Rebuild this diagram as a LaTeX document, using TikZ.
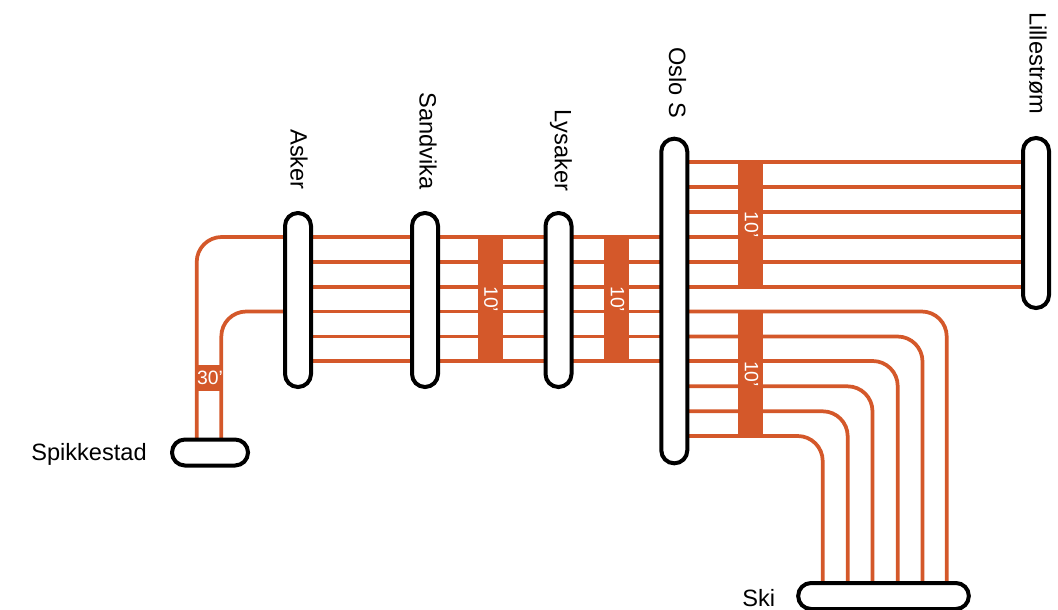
\documentclass[tikz,border=0pt]{standalone}
\usepackage{fontspec}
\setmainfont{Liberation Sans}
\definecolor{rail}{HTML}{D4582A}
\tikzset{
  station/.style={draw=black,line width=3pt,fill=white,rounded corners=9.7pt,inner sep=0pt,minimum width=19.5pt},
  hstation/.style={draw=black,line width=3pt,fill=white,rounded corners=9.7pt,inner sep=0pt,minimum height=19.5pt},
  track/.style={draw=rail,line width=2.8pt},
  curved/.style={track,rounded corners=18.75pt},
  freqbar/.style={fill=rail,inner sep=0pt,minimum width=18.75pt},
  freqlabel/.style={text=white,font=\fontsize{14.5}{14.5}\selectfont,inner sep=0pt},
  stlabel/.style={text=black,font=\fontsize{17.7}{17.7}\selectfont,inner sep=0pt}
}
\begin{document}
\begin{tikzpicture}[x=0.75pt,y=-0.75pt]
\useasboundingbox (0,0) rectangle (1058,610);
\fill[white] (0,0) rectangle (1058,610);
% station anchors
\coordinate (a1) at (298,237);\coordinate (a2) at (298,262);\coordinate (a3) at (298,287);
\coordinate (a4) at (298,311.5);\coordinate (a5) at (298,336.5);\coordinate (a6) at (298,361);
\coordinate (o1) at (674,237);\coordinate (o2) at (674,262);\coordinate (o3) at (674,287);
\coordinate (o4) at (674,311.5);\coordinate (o5) at (674,336.5);\coordinate (o6) at (674,361);
\coordinate (n1) at (674,162.3);\coordinate (n2) at (674,187.3);\coordinate (n3) at (674,212.3);
\coordinate (e1) at (1036,162.3);\coordinate (e2) at (1036,187.3);\coordinate (e3) at (1036,212.3);
\coordinate (e4) at (1036,237);\coordinate (e5) at (1036,262);\coordinate (e6) at (1036,287);
\coordinate (s1) at (674,386.3);\coordinate (s2) at (674,411.3);\coordinate (s3) at (674,436);
\coordinate (k1) at (946.7,596);\coordinate (k2) at (922.5,596);\coordinate (k3) at (897.7,596);
\coordinate (k4) at (872.5,596);\coordinate (k5) at (847.7,596);\coordinate (k6) at (822.7,596);
\coordinate (p1) at (196.7,452);\coordinate (p2) at (221.3,452);
% tracks
\foreach \i in {1,...,6} \draw[track] (a\i) -- (o\i);
\draw[track] (n1) -- (e1);\draw[track] (n2) -- (e2);\draw[track] (n3) -- (e3);
\draw[track] (o1) -- (e4);\draw[track] (o2) -- (e5);\draw[track] (o3) -- (e6);
\draw[curved] (o4) -| (k1);
\draw[curved] (o5) -| (k2);
\draw[curved] (o6) -| (k3);
\draw[curved] (s1) -| (k4);
\draw[curved] (s2) -| (k5);
\draw[curved] (s3) -| (k6);
\draw[curved] (a1) -| (p1);
\draw[curved] (a4) -| (p2);
% frequency bars
\node[freqbar,minimum height=93.75pt] (b1) at (490,299.2) {};
\node[freqbar,minimum height=93.75pt] (b2) at (616.5,299.2) {};
\node[freqbar,minimum height=93.75pt] (b3) at (750.5,224.7) {};
\node[freqbar,minimum height=93.75pt] (b4) at (750.5,374) {};
\node[freqbar,minimum height=19.5pt] (b5) at (209,378) {};
\node[freqlabel,rotate=-90] at ([xshift=0.75pt]b1) {10'};
\node[freqlabel,rotate=-90] at ([xshift=0.75pt]b2) {10'};
\node[freqlabel,rotate=-90] at ([xshift=0.75pt]b3) {10'};
\node[freqlabel,rotate=-90] at ([xshift=0.75pt]b4) {10'};
\node[freqlabel] at ([xshift=0.75pt]b5) {30'};
% stations
\node[station,minimum height=130.5pt] (asker) at (298,300) {};
\node[station,minimum height=130.5pt] (sandvika) at (425,300) {};
\node[station,minimum height=130.5pt] (lysaker) at (558.5,300) {};
\node[station,minimum height=243.5pt] (oslo) at (674.3,301) {};
\node[station,minimum height=127.5pt] (lillestrom) at (1036,223) {};
\node[hstation,minimum width=57pt] (spikkestad) at (210,452.5) {};
\node[hstation,minimum width=128pt] (ski) at (883.5,596) {};
% labels
\node[stlabel,rotate=-90,anchor=west] (lasker) at (299,129) {Asker};
\node[stlabel,rotate=-90,anchor=west] (lsandvika) at (428,92) {Sandvika};
\node[stlabel,rotate=-90,anchor=west] (llysaker) at (561,109) {Lysaker};
\node[stlabel,rotate=-90,anchor=west] (loslo) at (677.5,47) {Oslo S};
\node[stlabel,rotate=-90,anchor=west] (llille) at (1038,12) {Lillestrøm};
\node[stlabel,anchor=west] (lspikke) at (31,454.5) {Spikkestad};
\node[stlabel,anchor=west] (lski) at (742,598) {Ski};
\end{tikzpicture}
\end{document}
